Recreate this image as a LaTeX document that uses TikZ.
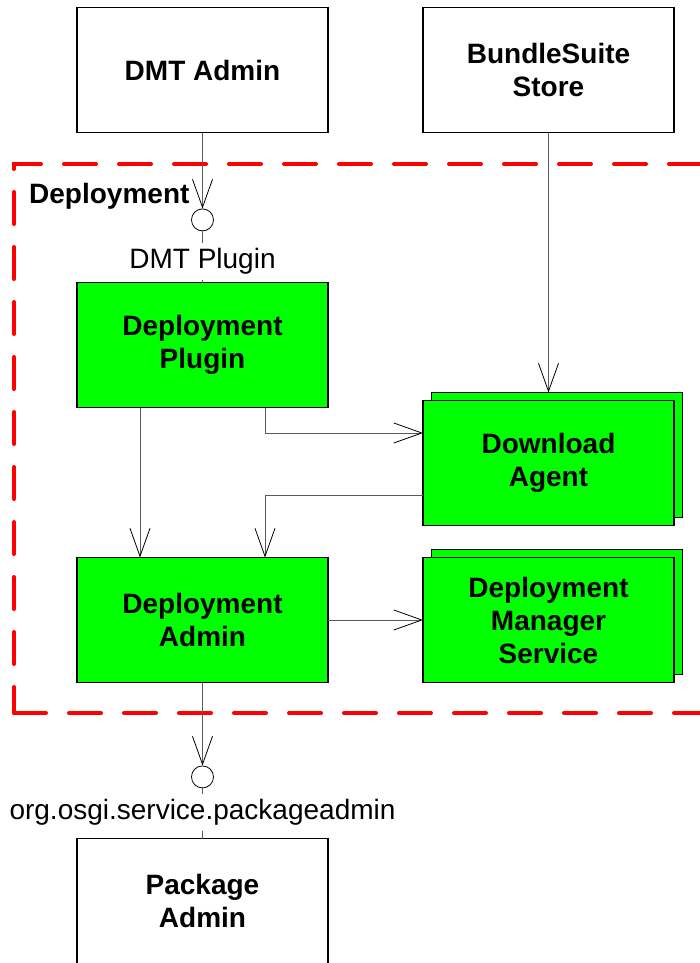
\documentclass[tikz,border=0pt]{standalone}
\usepackage{fontspec}
\setmainfont{Liberation Sans}
\usetikzlibrary{arrows.meta, positioning, calc, shadows}
\definecolor{bundleGreen}{HTML}{00FF00}
\definecolor{frameRed}{HTML}{FF0000}
\definecolor{wireGray}{HTML}{5A5A5A}

\begin{document}
\begin{tikzpicture}[
  x=1pt, y=-1pt,
  node distance=150pt and 95pt,
  box/.style={draw, line width=1.3pt, align=center, minimum width=251pt,
              minimum height=125pt, inner sep=0pt, outer sep=0pt,
              font=\fontsize{28}{33}\selectfont\bfseries},
  extbox/.style={box, fill=white},
  compbox/.style={box, fill=bundleGreen},
  multibox/.style={compbox, copy shadow={shadow xshift=8pt, shadow yshift=8pt,
              draw=black, line width=1pt, fill=bundleGreen}},
  iface/.style={circle, draw, line width=0.8pt, minimum size=22pt, inner sep=0pt},
  ifacelabel/.style={font=\fontsize{28}{33}\selectfont, inner xsep=0pt,
              inner ysep=5pt, text height=20pt, text depth=6pt},
  framebox/.style={frameRed, line width=4pt, dash pattern=on 32pt off 23pt,
              line cap=round},
  wire/.style={wireGray, line width=0.9pt},
  arr/.style={wire, -{Straight Barb[length=28pt, width=20pt, line width=0.8pt, color=black]}},
]
\clip (0,0) rectangle (700,963);

% deployment frame: top and left edge in one run, bottom edge on its own
\draw[framebox, dash phase=26pt] (730,164) -- (14,164) -- (14,713);
\draw[framebox] (14,713) -- (730,713);
\node[font=\fontsize{28}{33}\selectfont\bfseries, anchor=west, inner sep=0pt]
  (framelabel) at (29,196) {Deployment};

% boxes
\node[extbox] (dmt) at (202.5,70) {DMT Admin};
\node[extbox, right=95pt of dmt] (store) {BundleSuite\\Store};
\node[compbox, below=of dmt] (plugin) {Deployment\\Plugin};
\node[compbox, below=of plugin] (admin) {Deployment\\Admin};
\node[multibox, right=of admin] (manager) {Deployment\\Manager\\Service};
\node[multibox, above=32pt of manager] (agent) {Download\\Agent};
\node[extbox, below=156pt of admin] (pkg) {Package\\Admin};

% interfaces
\node[iface, below=76pt of dmt] (dmtif) {};
\node[ifacelabel, below=12pt of dmtif] (dmtlabel) {DMT Plugin};
\node[iface, below=83pt of admin] (pkgif) {};
\node[ifacelabel, below=6pt of pkgif] (pkglabel) {org.osgi.service.packageadmin};

% connectors
\draw[arr] (dmt.south) -- (dmtif.north);
\draw[wire] (dmtif.south) -- (dmtlabel.north);
\draw[wire] (dmtlabel.south) -- (plugin.north);
\coordinate (agenttop) at ([yshift=8pt]agent.north);
\draw[arr] (store.south) -- (store.south |- agenttop);
\draw[arr] ([xshift=62.5pt]plugin.south) |- ([yshift=30pt]agent.west);
\draw[arr] ([yshift=-32pt]agent.west) -| ([xshift=62.5pt]admin.north);
\draw[arr] ([xshift=-62.5pt]plugin.south) -- ([xshift=-62.5pt]admin.north);
\draw[arr] (admin.east) -- (manager.west);
\draw[arr] (admin.south) -- (pkgif.north);
\draw[wire] (pkgif.south) -- (pkglabel.north);
\draw[wire] (pkglabel.south) -- (pkg.north);
\end{tikzpicture}
\end{document}
